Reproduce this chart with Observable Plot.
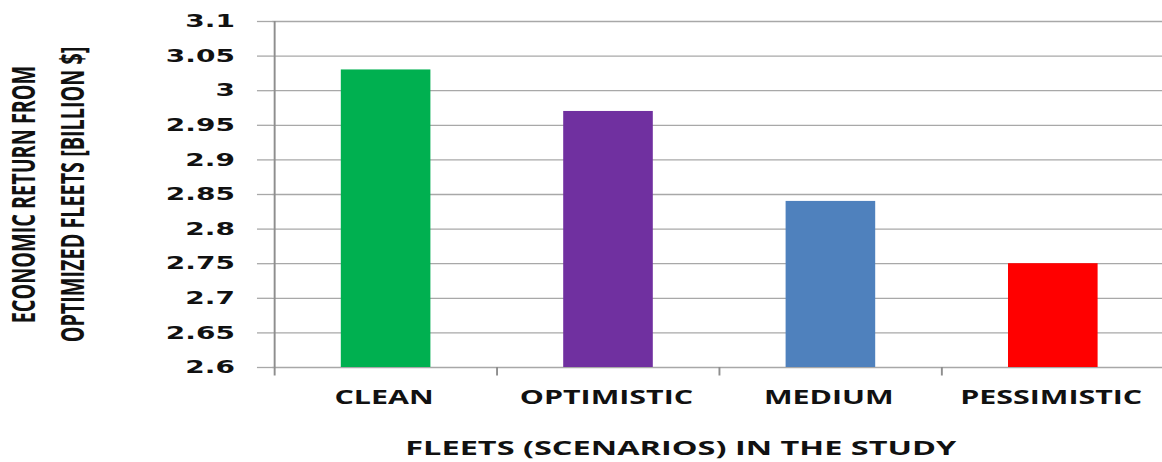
<!DOCTYPE html>
<html><head><meta charset="utf-8">
<script src="https://cdn.jsdelivr.net/npm/d3@7"></script>
<script src="https://cdn.jsdelivr.net/npm/@observablehq/plot@0.6"></script>
<style>
html,body{margin:0;padding:0;background:#fff;}
#chart{width:1162px;height:462px;overflow:hidden;}
#chart svg{display:block;}
</style></head><body><div id="chart"></div>
<script>
const categories = ["CLEAN", "OPTIMISTIC", "MEDIUM", "PESSIMISTIC"];
const values = [3.03, 2.97, 2.84, 2.75];
const barColors = ["#00B050", "#7030A0", "#4F81BD", "#FF0000"];
const yTicks = [2.6, 2.65, 2.7, 2.75, 2.8, 2.85, 2.9, 2.95, 3, 3.05, 3.1];
const yTickLabels = ["2.6", "2.65", "2.7", "2.75", "2.8", "2.85", "2.9", "2.95", "3", "3.05", "3.1"];
const yTitleLines = ["ECONOMIC RETURN FROM", "OPTIMIZED FLEETS [BILLION $]"];
const xTitle = "FLEETS (SCENARIOS) IN THE STUDY";

const data = categories.map((c, i) => ({cat: c, value: values[i]}));

// the reference is stretched horizontally; draw narrower and stretch the SVG
const S = 1.6;
const W = 1162, H = 462;
const fw = W / S;
const mL = 272 / S, mR = fw - 1166 / S, mT = 21, mB = H - 367;
const step = (fw - mL - mR) / categories.length;
const frameCenter = (mL + fw - mR) / 2;
const grid = "#a8a8a8";
const axisCol = "#8e8e8e";

const plot = Plot.plot({
  width: fw, height: H,
  marginLeft: mL, marginRight: mR, marginTop: mT, marginBottom: mB,
  style: {background: "#fff", color: "#000", overflow: "visible"},
  x: {domain: categories, paddingInner: 0.6, paddingOuter: 0.3, label: null},
  y: {domain: [yTicks[0], yTicks[yTicks.length - 1]], label: null},
  color: {domain: categories, range: barColors},
  marks: [
    Plot.ruleY(yTicks, {y: d => d, stroke: grid, strokeWidth: 1.3}),
    Plot.axisY({
      ticks: yTicks, tickFormat: d => yTickLabels[yTicks.indexOf(d)],
      tickSize: 9.4, tickPadding: 14.3, stroke: grid, strokeWidth: 1.3,
      fontSize: 17.5, fontWeight: "bold", fontFamily: "DejaVu Sans", fill: "#111", label: null
    }),
    Plot.barY(data, {x: "cat", y1: () => yTicks[0], y2: "value", fill: "cat"}),
    Plot.ruleX([categories[0]], {x: d => d, dx: -step / 2, y1: () => yTicks[0], y2: () => yTicks[yTicks.length - 1], stroke: axisCol, strokeWidth: 1.2}),
    Plot.axisX({ticks: categories, tickSize: 8.5, tickFormat: () => "", dx: -step / 2, stroke: axisCol, strokeWidth: 1.2, label: null}),
    Plot.axisX({
      ticks: categories, tickSize: 0, tickPadding: 23, dx: -1.5,
      fontSize: 19, fontWeight: "bold", fontFamily: "Open Sans", fill: "#111", label: null
    }),
    Plot.text([xTitle], {
      text: d => d, frameAnchor: "bottom", dx: 680 / S - frameCenter, dy: 81, lineAnchor: "middle",
      fontSize: 20.3, fontWeight: "bold", fontFamily: "Open Sans", fill: "#111"
    }),
    Plot.text([yTitleLines.join("\n")], {
      text: d => d, frameAnchor: "left", rotate: -90, dx: 43 / S - mL, lineAnchor: "middle", textAnchor: "middle",
      lineHeight: 1.55, fontSize: 19.8, fontWeight: "bold", fontFamily: "Open Sans", fill: "#111"
    })
  ]
});

plot.setAttribute("width", W);
plot.setAttribute("height", H);
plot.setAttribute("preserveAspectRatio", "none");
plot.style.width = W + "px";
plot.style.height = H + "px";
plot.style.maxWidth = "none";
document.getElementById("chart").appendChild(plot);
</script>
</body></html>
